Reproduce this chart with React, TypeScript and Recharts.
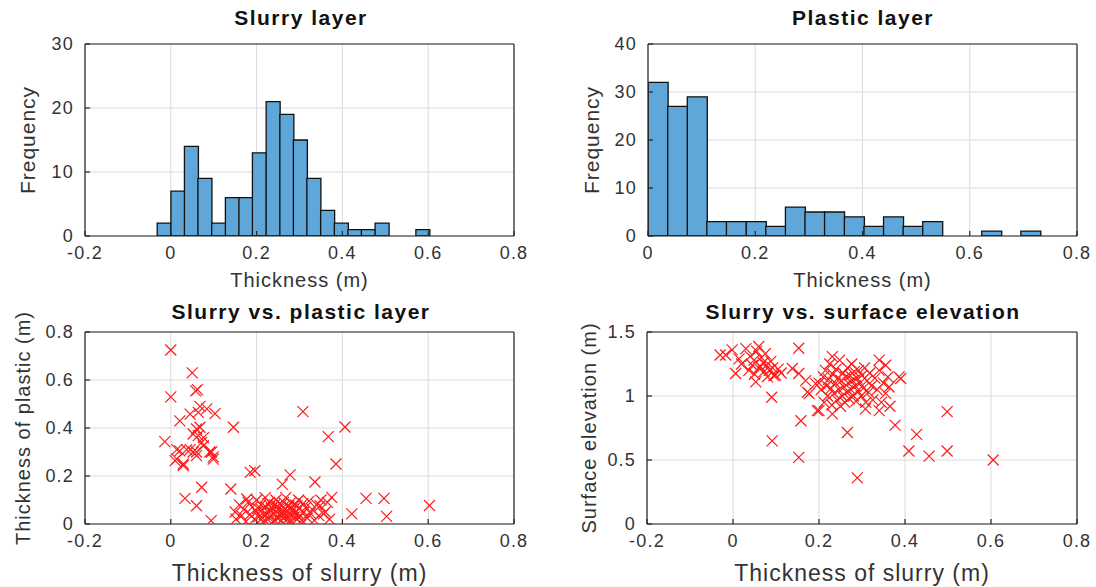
import React from "react";
import { BarChart, Bar, ScatterChart, Scatter, XAxis, YAxis, CartesianGrid } from "recharts";

// histogram bins
const slurryEdges = [-0.032, 0, 0.032, 0.063, 0.095, 0.127, 0.159, 0.19, 0.222, 0.254, 0.286, 0.317, 0.349, 0.381, 0.413, 0.444, 0.476, 0.508, 0.54, 0.571, 0.603];
const slurryCounts = [2, 7, 14, 9, 2, 6, 6, 13, 21, 19, 15, 9, 4, 2, 1, 1, 2, 0, 0, 1];
const plasticEdges = [0, 0.037, 0.073, 0.11, 0.146, 0.183, 0.22, 0.256, 0.293, 0.329, 0.366, 0.403, 0.439, 0.476, 0.512, 0.549, 0.586, 0.622, 0.659, 0.695, 0.732];
const plasticCounts = [32, 27, 29, 3, 3, 3, 2, 6, 5, 5, 4, 2, 4, 2, 3, 0, 0, 1, 0, 1];

// tick labels
const slurryTicks = [-0.2, 0, 0.2, 0.4, 0.6, 0.8];
const plasticTicks = [0, 0.2, 0.4, 0.6, 0.8];
const freqTicksSlurry = [0, 10, 20, 30];
const freqTicksPlastic = [0, 10, 20, 30, 40];
const plasticYTicks = [0, 0.2, 0.4, 0.6, 0.8];
const elevTicks = [0, 0.5, 1, 1.5];

// slurry thickness vs plastic thickness (m)
const slurryPlastic: [number, number][] = [
  [0.0, 0.725], [0.05, 0.63], [0.058, 0.555], [0.062, 0.56], [0.0, 0.53], [-0.014, 0.343], [0.021, 0.43],
  [0.045, 0.458], [0.068, 0.49], [0.084, 0.48], [0.103, 0.46], [0.064, 0.465], [0.06, 0.396], [0.068, 0.403],
  [0.052, 0.375], [0.076, 0.36], [0.064, 0.368], [0.072, 0.34], [0.076, 0.326], [0.014, 0.31], [0.021, 0.305],
  [0.037, 0.31], [0.045, 0.31], [0.052, 0.3], [0.06, 0.3], [0.06, 0.285], [0.091, 0.3], [0.095, 0.3],
  [0.099, 0.28], [0.099, 0.27], [0.01, 0.264], [0.014, 0.27], [0.029, 0.25], [0.029, 0.243], [0.146, 0.403],
  [0.033, 0.107], [0.06, 0.076], [0.072, 0.153], [0.094, 0.014], [0.14, 0.146], [0.177, 0.104], [0.185, 0.215],
  [0.196, 0.222], [0.308, 0.468], [0.406, 0.404], [0.367, 0.364], [0.385, 0.25], [0.278, 0.205], [0.26, 0.165],
  [0.336, 0.175], [0.375, 0.111], [0.455, 0.107], [0.497, 0.107], [0.422, 0.042], [0.503, 0.032], [0.603, 0.077],
  [0.348, 0.076], [0.356, 0.042],
  [0.15, 0.05], [0.152, 0.02], [0.16, 0.08], [0.165, 0.035], [0.17, 0.06], [0.175, 0.01], [0.18, 0.09],
  [0.185, 0.04], [0.19, 0.07], [0.195, 0.02], [0.2, 0.1], [0.2, 0.05], [0.205, 0.03], [0.21, 0.08],
  [0.212, 0.06], [0.215, 0.01], [0.218, 0.04], [0.22, 0.11], [0.222, 0.07], [0.225, 0.02], [0.228, 0.05],
  [0.23, 0.09], [0.232, 0.03], [0.235, 0.065], [0.238, 0.01], [0.24, 0.045], [0.242, 0.08], [0.245, 0.1],
  [0.248, 0.025], [0.25, 0.06], [0.252, 0.04], [0.255, 0.085], [0.258, 0.015], [0.26, 0.05], [0.262, 0.07],
  [0.265, 0.03], [0.268, 0.11], [0.27, 0.055], [0.272, 0.02], [0.275, 0.075], [0.278, 0.04], [0.28, 0.09],
  [0.282, 0.01], [0.285, 0.06], [0.288, 0.03], [0.29, 0.08], [0.292, 0.05], [0.295, 0.02], [0.298, 0.1],
  [0.3, 0.065], [0.302, 0.035], [0.305, 0.015], [0.308, 0.085], [0.31, 0.05], [0.315, 0.07], [0.318, 0.025],
  [0.322, 0.095], [0.325, 0.045], [0.33, 0.06], [0.335, 0.015], [0.34, 0.08], [0.345, 0.035], [0.35, 0.1],
  [0.36, 0.05], [0.365, 0.09], [0.37, 0.02],
  [0.203, 0.065], [0.214, 0.025], [0.226, 0.085], [0.233, 0.055], [0.243, 0.015], [0.249, 0.075], [0.257, 0.035],
  [0.263, 0.09], [0.267, 0.045], [0.273, 0.005], [0.279, 0.065], [0.287, 0.045], [0.294, 0.075], [0.299, 0.03],
];

// slurry thickness (m) vs surface elevation (m)
const slurryElevation: [number, number][] = [
  [-0.03, 1.32], [-0.017, 1.32], [-0.002, 1.36], [0.006, 1.176], [0.014, 1.29], [0.02, 1.25], [0.03, 1.37],
  [0.037, 1.2], [0.04, 1.31], [0.045, 1.24], [0.049, 1.28], [0.05, 1.17], [0.053, 1.11], [0.055, 1.35],
  [0.06, 1.387], [0.06, 1.22], [0.064, 1.23], [0.066, 1.3], [0.07, 1.26], [0.072, 1.19], [0.075, 1.33],
  [0.078, 1.24], [0.08, 1.15], [0.084, 1.2], [0.088, 1.27], [0.092, 1.22], [0.095, 1.16], [0.099, 1.163],
  [0.105, 1.21], [0.112, 1.18], [0.09, 0.99], [0.091, 0.65],
  [0.153, 1.373], [0.138, 1.215], [0.153, 1.176], [0.158, 0.807], [0.153, 0.52], [0.169, 1.12], [0.173, 1.03],
  [0.192, 1.097], [0.196, 0.886], [0.266, 0.715], [0.289, 0.36], [0.377, 0.773], [0.427, 0.7], [0.409, 0.57],
  [0.456, 0.53], [0.498, 0.878], [0.498, 0.57], [0.605, 0.5], [0.34, 1.28], [0.355, 1.24], [0.386, 1.15],
  [0.39, 1.137], [0.363, 1.07], [0.2, 0.886], [0.231, 0.86], [0.308, 0.9], [0.34, 0.886], [0.231, 1.308],
  [0.177, 1.018],
  [0.2, 1.1], [0.205, 1.05], [0.21, 1.15], [0.212, 0.95], [0.215, 1.2], [0.218, 1.08], [0.22, 1.0],
  [0.222, 1.13], [0.225, 1.25], [0.228, 1.06], [0.23, 0.93], [0.232, 1.17], [0.235, 1.02], [0.238, 1.1],
  [0.24, 1.21], [0.242, 0.97], [0.244, 1.14], [0.246, 1.05], [0.248, 1.28], [0.25, 0.92], [0.252, 1.12],
  [0.254, 1.0], [0.256, 1.18], [0.258, 1.07], [0.26, 0.95], [0.262, 1.15], [0.264, 1.03], [0.266, 1.22],
  [0.268, 1.1], [0.27, 0.98], [0.272, 1.16], [0.274, 1.05], [0.276, 1.25], [0.278, 1.12], [0.28, 1.0],
  [0.282, 1.19], [0.284, 1.08], [0.286, 0.96], [0.288, 1.14], [0.29, 1.04], [0.292, 1.2], [0.295, 1.1],
  [0.298, 1.0], [0.3, 1.16], [0.303, 1.06], [0.306, 1.22], [0.309, 0.95], [0.312, 1.12], [0.315, 1.03],
  [0.318, 1.18], [0.322, 1.08], [0.325, 0.97], [0.33, 1.14], [0.335, 1.05], [0.34, 1.2], [0.345, 0.95],
  [0.35, 1.1], [0.355, 1.02], [0.36, 1.15], [0.365, 0.92],
];

const toBins = (edges: number[], counts: number[]) =>
  counts.map((c, i) => ({ x: (edges[i] + edges[i + 1]) / 2, count: c }));
const toPoints = (pts: [number, number][]) => pts.map(([x, y]) => ({ x, y }));

const slurryData = toBins(slurryEdges, slurryCounts);
const plasticData = toBins(plasticEdges, plasticCounts);

const FONT = "'Liberation Sans', Arial, Helvetica, sans-serif";
const INK = "#262626";
const TEXT = "#333";
const GRID = "#dadada";
const tickStyle = { fill: TEXT, fontSize: 18, fontFamily: FONT, letterSpacing: 1.2 };
const labelStyle = { fill: TEXT, fontSize: 20, fontFamily: FONT, letterSpacing: 1 };
const lineStyle = { stroke: INK, strokeWidth: 1.2 };

const Cross = (props: any) => {
  const { cx, cy } = props;
  if (cx == null || cy == null) return null;
  const s = 5.5;
  return (
    <path
      d={`M${cx - s},${cy - s}L${cx + s},${cy + s}M${cx + s},${cy - s}L${cx - s},${cy + s}`}
      stroke="#ff1a1a"
      strokeWidth={1.2}
      fill="none"
    />
  );
};

const yLabel = (value: string, offset: number, size = 20) => ({
  value,
  angle: -90,
  position: "insideLeft" as const,
  offset,
  style: { ...labelStyle, fontSize: size, textAnchor: "middle" as const },
});

const xLabel = (value: string, offset: number, size = 20) => ({
  value,
  position: "insideBottom" as const,
  offset,
  style: { ...labelStyle, fontSize: size },
});

// box around each axes (top + right edges with inward ticks)
const frame = (xDomain: number[], xTicks: number[], yDomain: number[], yTicks: number[]) => [
  <XAxis
    key="top"
    xAxisId="top"
    orientation="top"
    type="number"
    domain={xDomain}
    ticks={xTicks}
    height={1}
    tick={false}
    tickSize={-5}
    axisLine={lineStyle}
    tickLine={lineStyle}
    allowDataOverflow
  />,
  <YAxis
    key="right"
    yAxisId="right"
    orientation="right"
    type="number"
    domain={yDomain}
    ticks={yTicks}
    width={1}
    tick={false}
    tickSize={-5}
    axisLine={lineStyle}
    tickLine={lineStyle}
    allowDataOverflow
  />,
];

const App: React.FC = () => {
  return (
    <div style={{ position: "absolute", left: 0, top: 0, width: 1096, height: 587, background: "#fff" }}>
      {/* Slurry layer */}
      <div style={{ position: "absolute", left: 0, top: 0 }}>
        <BarChart width={548} height={293} data={slurryData} margin={{ top: 43, right: 33, left: 0, bottom: 0 }} barCategoryGap={0} barGap={0}>
          <CartesianGrid stroke={GRID} />
          <XAxis type="number" dataKey="x" domain={[-0.2, 0.8]} ticks={slurryTicks} interval={0} height={57}
            tickSize={-5} tickMargin={15} axisLine={lineStyle} tickLine={lineStyle} tick={tickStyle}
            label={xLabel("Thickness (m)", 6)} allowDataOverflow />
          <YAxis type="number" domain={[0, 30]} ticks={freqTicksSlurry} interval={0} width={85}
            tickSize={-5} tickMargin={16} axisLine={lineStyle} tickLine={lineStyle} tick={tickStyle}
            label={yLabel("Frequency", 28, 21)} allowDataOverflow />
          {frame([-0.2, 0.8], slurryTicks, [0, 30], freqTicksSlurry)}
          <Bar dataKey="count" fill="#5fa6d9" stroke="#111" strokeWidth={1.3} isAnimationActive={false} />
        </BarChart>
      </div>

      {/* Plastic layer */}
      <div style={{ position: "absolute", left: 548, top: 0 }}>
        <BarChart width={548} height={293} data={plasticData} margin={{ top: 43, right: 18, left: 0, bottom: 0 }} barCategoryGap={0} barGap={0}>
          <CartesianGrid stroke={GRID} />
          <XAxis type="number" dataKey="x" domain={[0, 0.8]} ticks={plasticTicks} interval={0} height={57}
            tickSize={-5} tickMargin={15} axisLine={lineStyle} tickLine={lineStyle} tick={tickStyle}
            label={xLabel("Thickness (m)", 6)} allowDataOverflow />
          <YAxis type="number" domain={[0, 40]} ticks={freqTicksPlastic} interval={0} width={100}
            tickSize={-5} tickMargin={16} axisLine={lineStyle} tickLine={lineStyle} tick={tickStyle}
            label={yLabel("Frequency", 44, 21)} allowDataOverflow />
          {frame([0, 0.8], plasticTicks, [0, 40], freqTicksPlastic)}
          <Bar dataKey="count" fill="#5fa6d9" stroke="#111" strokeWidth={1.3} isAnimationActive={false} />
        </BarChart>
      </div>

      {/* Slurry vs. plastic layer */}
      <div style={{ position: "absolute", left: 0, top: 293 }}>
        <ScatterChart width={548} height={294} margin={{ top: 38, right: 33, left: 0, bottom: 0 }}>
          <CartesianGrid stroke={GRID} />
          <XAxis type="number" dataKey="x" domain={[-0.2, 0.8]} ticks={slurryTicks} interval={0} height={63}
            tickSize={-5} tickMargin={15} axisLine={lineStyle} tickLine={lineStyle} tick={tickStyle}
            label={xLabel("Thickness of slurry (m)", 6, 23)} allowDataOverflow />
          <YAxis type="number" dataKey="y" domain={[0, 0.8]} ticks={plasticYTicks} interval={0} width={85}
            tickSize={-5} tickMargin={16} axisLine={lineStyle} tickLine={lineStyle} tick={tickStyle}
            label={yLabel("Thickness of plastic (m)", 23)} allowDataOverflow />
          {frame([-0.2, 0.8], slurryTicks, [0, 0.8], plasticYTicks)}
          <Scatter data={toPoints(slurryPlastic)} shape={<Cross />} isAnimationActive={false} />
        </ScatterChart>
      </div>

      {/* Slurry vs. surface elevation */}
      <div style={{ position: "absolute", left: 548, top: 293 }}>
        <ScatterChart width={548} height={294} margin={{ top: 38, right: 18, left: 0, bottom: 0 }}>
          <CartesianGrid stroke={GRID} />
          <XAxis type="number" dataKey="x" domain={[-0.2, 0.8]} ticks={slurryTicks} interval={0} height={63}
            tickSize={-5} tickMargin={15} axisLine={lineStyle} tickLine={lineStyle} tick={tickStyle}
            label={xLabel("Thickness of slurry (m)", 6, 23)} allowDataOverflow />
          <YAxis type="number" dataKey="y" domain={[0, 1.5]} ticks={elevTicks} interval={0} width={99}
            tickSize={-5} tickMargin={16} axisLine={lineStyle} tickLine={lineStyle} tick={tickStyle}
            label={yLabel("Surface elevation (m)", 41)} allowDataOverflow />
          {frame([-0.2, 0.8], slurryTicks, [0, 1.5], elevTicks)}
          <Scatter data={toPoints(slurryElevation)} shape={<Cross />} isAnimationActive={false} />
        </ScatterChart>
      </div>

      {/* panel titles */}
      <svg width={1096} height={587} style={{ position: "absolute", left: 0, top: 0, pointerEvents: "none" }}>
        <g fontFamily={FONT} fontSize={21} fontWeight="bold" fill="#111" letterSpacing={1.5} textAnchor="middle">
          <text x={301} y={25}>Slurry layer</text>
          <text x={863} y={25}>Plastic layer</text>
          <text x={301} y={319}>Slurry vs. plastic layer</text>
          <text x={863} y={319}>Slurry vs. surface elevation</text>
        </g>
      </svg>
    </div>
  );
};

export default App;
